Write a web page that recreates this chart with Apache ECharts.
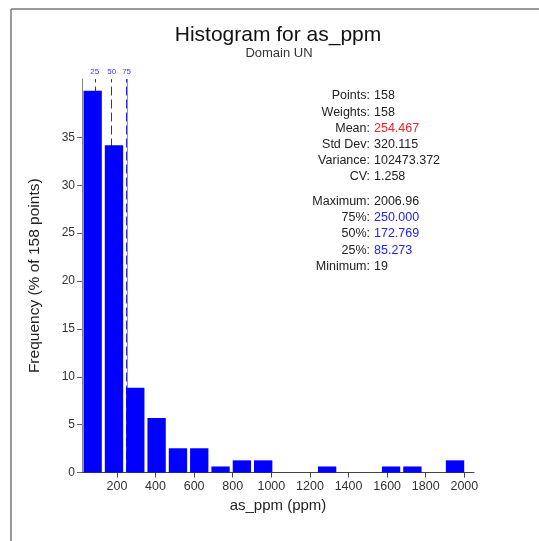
<!DOCTYPE html>
<html>
<head>
<meta charset="utf-8">
<script src="https://cdn.jsdelivr.net/npm/echarts@6/dist/echarts.min.js"></script>
<style>
    html, body { margin: 0; padding: 0; background: #fff; }
    #chart { width: 539px; height: 541px; }
</style>
</head>
<body>
<div id="chart"></div>
<script>
// bin edges of the 18 classes (as_ppm)
const binEdges = [19, 129.4, 239.9, 350.3, 460.8, 571.2, 681.7, 792.1, 902.5, 1013,
    1123.4, 1233.8, 1344.3, 1454.7, 1565.2, 1675.6, 1786.1, 1896.5, 2007]
// frequency in % of 158 points
const freqPct = [39.87, 34.18, 8.86, 5.70, 2.53, 2.53, 0.63, 1.27, 1.27, 0,
    0, 0.63, 0, 0, 0.63, 0.63, 0, 1.27]
const xTicks = [200, 400, 600, 800, 1000, 1200, 1400, 1600, 1800, 2000]
const yTicks = [0, 5, 10, 15, 20, 25, 30, 35]
const quantiles = [
    { name: '25', value: 85.273 },
    { name: '50', value: 172.769 },
    { name: '75', value: 250.000 }
]
const meanValue = 254.467
const statLabels = ['Points:', 'Weights:', 'Mean:', 'Std Dev:', 'Variance:', 'CV:',
    'Maximum:', '75%:', '50%:', '25%:', 'Minimum:']
const statValues = ['158', '158', '254.467', '320.115', '102473.372', '1.258',
    '2006.96', '250.000', '172.769', '85.273', '19']

const chart = echarts.init(document.getElementById('chart'))
const font = 'Liberation Sans, Arial, sans-serif'

const barData = freqPct.map((v, i) => [binEdges[i], binEdges[i + 1], v])

// stats block, right aligned labels + left aligned values
const statRowsY = [96, 113, 129, 145, 161, 177, 202, 218, 234, 251, 267]
const statColor = i => i === 2 ? '#ee2222' : (i >= 7 && i <= 9 ? '#2222ee' : '#222')
const statGraphics = []
statLabels.forEach((lab, i) => {
    statGraphics.push({
        type: 'text', x: 370, y: statRowsY[i],
        style: { text: lab, font: '12.5px ' + font, fill: '#222', align: 'right', verticalAlign: 'middle' }
    })
    statGraphics.push({
        type: 'text', x: 374, y: statRowsY[i],
        style: { text: statValues[i], font: '12.5px ' + font, fill: statColor(i), align: 'left', verticalAlign: 'middle' }
    })
})

chart.setOption({
    animation: false,
    textStyle: { fontFamily: font },
    grid: { left: 82, right: 65, top: 79, bottom: 68.5 },
    xAxis: {
        type: 'value',
        min: 19,
        max: 2050,
        name: 'as_ppm (ppm)',
        nameLocation: 'middle',
        nameGap: 26,
        nameTextStyle: { fontSize: 15, color: '#222' },
        axisLine: { lineStyle: { color: '#444' } },
        axisTick: { customValues: xTicks, length: 5, lineStyle: { color: '#444' } },
        axisLabel: { customValues: xTicks, fontSize: 12.5, color: '#333', margin: 8, formatter: v => String(v) },
        splitLine: { show: false }
    },
    yAxis: {
        type: 'value',
        min: 0,
        max: 41.1,
        name: 'Frequency (% of 158 points)',
        nameLocation: 'middle',
        nameGap: 39,
        nameTextStyle: { fontSize: 15.5, color: '#222' },
        axisLine: { show: true, lineStyle: { color: '#888' } },
        axisTick: { show: true, customValues: yTicks, length: 5, lineStyle: { color: '#666' } },
        axisLabel: { customValues: yTicks, fontSize: 12, color: '#333', margin: 7 },
        splitLine: { show: false }
    },
    series: [{
        // quantile and mean lines, drawn behind the bars
        type: 'line',
        data: [],
        z: 1,
        markLine: {
            silent: true,
            symbol: 'none',
            z: 1,
            data: [
                { xAxis: meanValue, lineStyle: { color: '#f07070', type: 'solid', width: 1 }, label: { show: false } }
            ].concat(quantiles.map(q => ({
                xAxis: q.value,
                lineStyle: { color: '#2a2ad0', type: [9, 4], width: 1 },
                label: { show: true, position: 'end', formatter: q.name, color: '#3a3ae0', fontSize: 8, distance: 3 }
            })))
        }
    }, {
        type: 'custom',
        z: 3,
        data: barData,
        encode: { x: [0, 1], y: 2 },
        renderItem(params, api) {
            const h = api.value(2)
            if (!h) return
            const p0 = api.coord([api.value(0), 0])
            const p1 = api.coord([api.value(1), h])
            return {
                type: 'rect',
                shape: { x: p0[0] + 1.5, y: p1[1], width: p1[0] - p0[0] - 3, height: p0[1] - p1[1] },
                style: { fill: '#0000ff' }
            }
        }
    }],
    graphic: [
        { type: 'line', shape: { x1: 11, y1: 9, x2: 539, y2: 9 }, style: { stroke: '#777', lineWidth: 1.5 } },
        { type: 'line', shape: { x1: 11, y1: 9, x2: 11, y2: 541 }, style: { stroke: '#777', lineWidth: 1.5 } },
        {
            type: 'text', x: 278, y: 35,
            style: { text: 'Histogram for as_ppm', font: '21px ' + font, fill: '#111', align: 'center', verticalAlign: 'middle' }
        },
        {
            type: 'text', x: 279, y: 53,
            style: { text: 'Domain UN', font: '13px ' + font, fill: '#333', align: 'center', verticalAlign: 'middle' }
        }
    ].concat(statGraphics)
})
</script>
</body>
</html>
